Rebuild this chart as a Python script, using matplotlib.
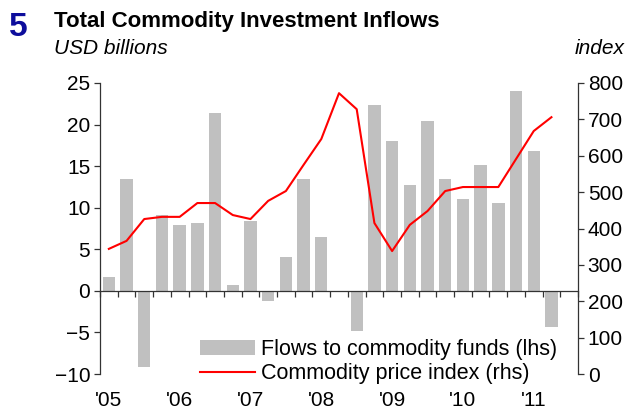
import numpy as np
import matplotlib.pyplot as plt
import matplotlib.transforms as mtransforms
from matplotlib.patches import Patch
from matplotlib.lines import Line2D

plt.rcParams['font.family'] = ['Liberation Sans', 'DejaVu Sans']

# quarterly data, Q1 2005 .. Q3 2011
flows = [1.7, 13.4, -9.1, 9.1, 7.9, 8.2, 21.4, 0.7, 8.4, -1.2, 4.1, 13.5, 6.5, 0.0,
         -4.8, 22.3, 18.0, 12.7, 20.4, 13.5, 11.0, 15.1, 10.6, 24.0, 16.8, -4.3, np.nan]
price_index = [344, 366, 426, 432, 432, 470, 470, 437, 426, 476, 503, 575, 646, 772,
               728, 415, 338, 410, 448, 503, 514, 514, 514, 591, 668, 706, np.nan]
year_labels = ["'05", "'06", "'07", "'08", "'09", "'10", "'11"]

x = np.arange(len(flows))

fig = plt.figure(figsize=(6.31, 4.09), dpi=100)
ax = fig.add_axes([100/631, 1 - 374/409, 478/631, 291/409])
ax2 = ax.twinx()

ax.bar(x, flows, width=0.7, color='#c0c0c0', zorder=2)
ax2.plot(x, price_index, color='#ff0000', lw=1.5)

ax.set_xlim(-0.5, len(flows) - 0.5)
ax.set_ylim(-10, 25)
ax.set_yticks(np.arange(-10, 26, 5))
ax2.set_ylim(0, 800)
ax2.set_yticks(np.arange(0, 801, 100))

for a in (ax, ax2):
    for s in a.spines.values():
        s.set_visible(False)
ax.spines['left'].set_visible(True)
ax2.spines['right'].set_visible(True)
ax.spines['bottom'].set_visible(True)
ax.spines['bottom'].set_position(('data', 0))
for s in ('left', 'bottom'):
    ax.spines[s].set_color('#333333')
    ax.spines[s].set_linewidth(0.9)
ax2.spines['right'].set_color('#333333')
ax2.spines['right'].set_linewidth(0.9)

ax.set_xticks(np.arange(-0.5, len(flows), 1))
ax.set_xticklabels([])
ax.tick_params(axis='x', direction='out', length=4, width=0.9, color='#333333')
ax.tick_params(axis='y', direction='out', length=4, width=0.9, color='#333333',
               labelsize=15, pad=3)
ax2.tick_params(axis='y', direction='out', length=4, width=0.9, color='#333333',
                labelsize=15, pad=3)

trans = mtransforms.blended_transform_factory(ax.transData, fig.transFigure)
for i, lab in enumerate(year_labels):
    ax.text(i * 4, 1 - 401/409, lab, transform=trans, ha='center', va='center', fontsize=15)

handles = [Patch(facecolor='#c0c0c0', edgecolor='none'),
           Line2D([], [], color='#ff0000', lw=1.5)]
fig.legend(handles, ['Flows to commodity funds (lhs)', 'Commodity price index (rhs)'],
           loc='upper left', bbox_to_anchor=(200/631, 1 - 339/409), frameon=False,
           fontsize=15.5, handlelength=2.55, handleheight=0.7, handletextpad=0.3,
           labelspacing=0.15, borderaxespad=0, borderpad=0)

fig.text(9/631, 1 - 27/409, '5', fontsize=24, fontweight='bold', color='#0d0d9c',
         ha='left', va='center')
fig.text(54/631, 1 - 21/409, 'Total Commodity Investment Inflows', fontsize=16,
         fontweight='bold', ha='left', va='center')
fig.text(54/631, 1 - 48/409, 'USD billions', fontsize=15, style='italic',
         ha='left', va='center')
fig.text(625/631, 1 - 48/409, 'index', fontsize=15, style='italic',
         ha='right', va='center')

fig.savefig('out.png', dpi=100)
